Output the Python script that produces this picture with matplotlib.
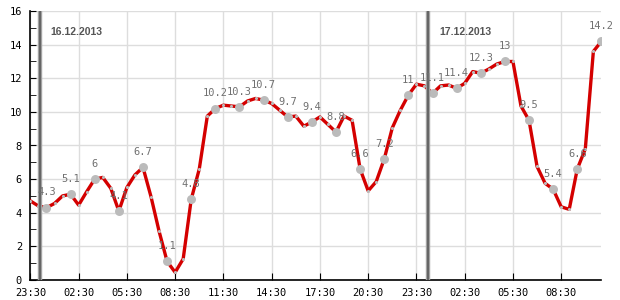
import matplotlib
matplotlib.use("Agg")
import matplotlib.pyplot as plt
import matplotlib.dates as mdates
from matplotlib.ticker import MultipleLocator
import pandas as pd

# half-hourly readings, 15.12.2013 23:30 -> 17.12.2013 11:00
start = "2013-12-15 23:30"
values = [4.7, 4.4, 4.3, 4.55, 5.0, 5.1, 4.45, 5.25, 6.0, 6.1, 5.45, 4.1,
          5.5, 6.25, 6.7, 4.95, 2.9, 1.1, 0.45, 1.25, 4.8, 6.6, 9.75, 10.2,
          10.4, 10.35, 10.3, 10.65, 10.8, 10.7, 10.5, 10.1, 9.7, 9.75, 9.15, 9.4,
          9.7, 9.25, 8.8, 9.75, 9.5, 6.6, 5.3, 5.85, 7.2, 9.05, 10.1, 11.0,
          11.65, 11.55, 11.1, 11.55, 11.6, 11.4, 11.7, 12.4, 12.3, 12.55, 12.85, 13.0,
          13.0, 10.35, 9.5, 6.75, 5.75, 5.4, 4.35, 4.2, 6.6, 7.8, 13.6, 14.2]
labeled_idx = list(range(2, len(values), 3))

day_marks = ["2013-12-16 00:05", "2013-12-17 00:15"]
day_labels = ["16.12.2013", "17.12.2013"]

times = pd.date_range(start, periods=len(values), freq="30min")
tick_times = pd.date_range(start, times[-1], freq="3h")

fig = plt.figure(figsize=(6.2, 3.0), dpi=100)
ax = fig.add_axes([0.049, 0.067, 0.921, 0.896])

ax.grid(True, which="major", color="#dddddd", linewidth=1.0)
ax.set_axisbelow(True)

ax.plot(times, values, color="#d40000", linewidth=2.4, zorder=3,
        solid_joinstyle="round")
ax.scatter(times, values, s=5, color="#bbbbbb", zorder=4, linewidths=0)
ax.scatter(times[labeled_idx], [values[i] for i in labeled_idx], s=42,
           color="#bbbbbb", zorder=5, linewidths=0)

for i in labeled_idx:
    ax.annotate(f"{values[i]:g}", (times[i], values[i]), xytext=(0, 11),
                textcoords="offset points", ha="center", va="center",
                fontsize=7.5, family="DejaVu Sans Mono", color="#707070",
                zorder=7)

for d, lab in zip(day_marks, day_labels):
    t = pd.Timestamp(d)
    ax.axvline(t, color="#aaaaaa", linewidth=3.2, zorder=6)
    ax.axvline(t, color="#666666", linewidth=1.6, zorder=6)
    ax.annotate(lab, (t, 16), xytext=(8, -15), textcoords="offset points",
                ha="left", va="center", fontsize=7.5, fontweight="bold",
                family="Liberation Sans", color="#555555")

ax.set_xlim(times[0], times[-1])
ax.set_ylim(0, 16)
ax.set_xticks(tick_times)
ax.xaxis.set_major_formatter(mdates.DateFormatter("%H:%M"))
ax.yaxis.set_major_locator(MultipleLocator(2))
ax.yaxis.set_minor_locator(MultipleLocator(1))

for s in ["top", "right"]:
    ax.spines[s].set_visible(False)
for s in ["left", "bottom"]:
    ax.spines[s].set_color("black")
    ax.spines[s].set_linewidth(1.2)

ax.tick_params(axis="x", direction="in", length=5, pad=6, labelsize=7.5)
ax.tick_params(axis="y", which="both", direction="in", length=4, pad=6,
               labelsize=7.5)
for lbl in ax.get_xticklabels() + ax.get_yticklabels():
    lbl.set_family("DejaVu Sans Mono")

fig.savefig("out.png", dpi=100)
